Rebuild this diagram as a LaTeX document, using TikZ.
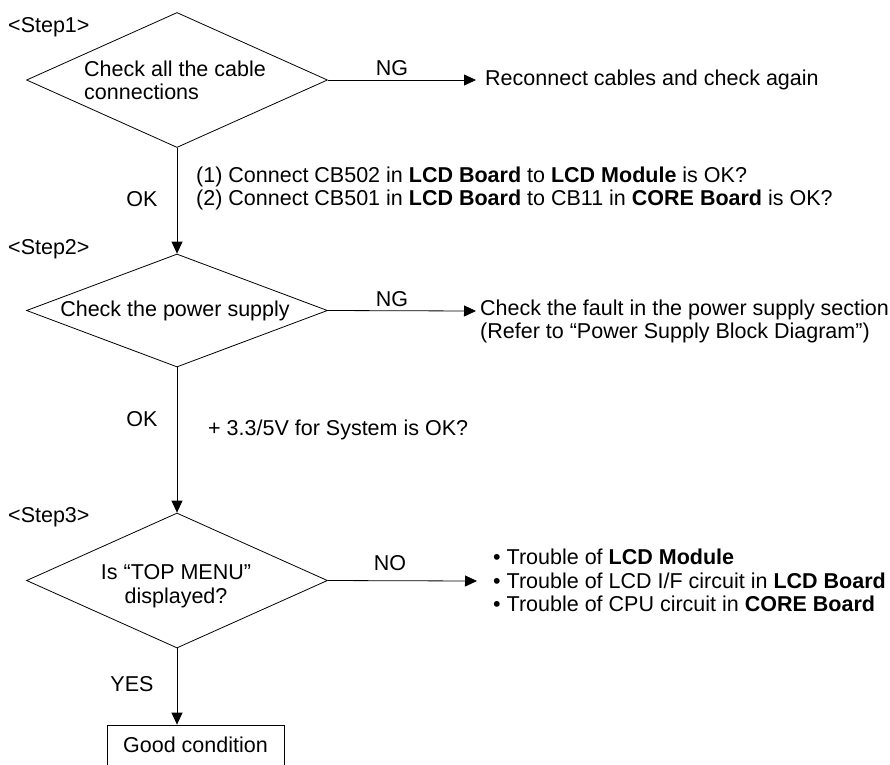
\documentclass[tikz,border=0pt]{standalone}
\usepackage{fontspec}
\setmainfont{Liberation Sans}
\usetikzlibrary{shapes.geometric,arrows.meta}
\begin{document}
\begin{tikzpicture}[x=1pt,y=-1pt,
  every node/.style={font=\fontsize{21.5}{23.5}\selectfont, inner sep=0pt},
  dia/.style={draw, diamond, minimum width=301pt, minimum height=135pt, line width=0.8pt},
  dia2/.style={draw, diamond, minimum width=301pt, minimum height=113pt, line width=0.8pt},
  conn/.style={line width=0.8pt, -{Triangle[length=12pt,width=11pt]}},
  txt/.style={align=left, anchor=west},
  lbl/.style={anchor=center}]
\useasboundingbox (0,0) rectangle (890,764);
% diamonds
\node[dia] (d1) at (177,80) {};
\node[dia2] (d2) at (177,310.5) {};
\node[dia] (d3) at (177,580.5) {};
\node[draw, line width=0.8pt, minimum width=177pt, minimum height=40pt] (good) at (195.5,745) {Good condition};
% diamond texts
\node[txt] (t1) at (84,80.5) {Check all the cable\\connections};
\node[lbl] (t2) at (175,311) {Check the power supply};
\node[align=center] (t3) at (176,586) {Is “TOP MENU”\\displayed?};
% step labels
\node[txt] (s1) at (8,27) {<Step1>};
\node[txt] (s2) at (8,249) {<Step2>};
\node[txt] (s3) at (8,517) {<Step3>};
% vertical arrows
\draw[conn] (d1.south) -- (d2.north);
\draw[conn] (d2.south) -- (d3.north);
\draw[conn] (d3.south) -- (d3.south |- good.north);
% vertical labels
\node[lbl] (ok1) at (142,199) {OK};
\node[lbl] (ok2) at (142,419) {OK};
\node[lbl] (yes) at (132,684) {YES};
\node[txt] (c1) at (196,188.5) {(1) Connect CB502 in \textbf{LCD Board} to \textbf{LCD Module} is OK?\\(2) Connect CB501 in \textbf{LCD Board} to CB11 in \textbf{CORE Board} is OK?};
\node[txt] (c2) at (208,430) {+ 3.3/5V for System is OK?};
% horizontal arrows
\coordinate (e1) at (476,80);
\coordinate (e2) at (476,311);
\coordinate (e3) at (477,581);
\draw[conn] (d1.east) -- (e1);
\draw[conn] (d2.east) -- (e2);
\draw[conn] (d3.east) -- (e3);
\node[lbl] (ng1) at (392,68) {NG};
\node[lbl] (ng2) at (392,299) {NG};
\node[lbl] (no) at (390,563) {NO};
\node[txt] (r1) at (485,80) {Reconnect cables and check again};
\node[txt] (r2) at (480,321.5) {Check the fault in the power supply section\\(Refer to “Power Supply Block Diagram”)};
\node[txt] (r3) at (493,580.5) {• Trouble of \textbf{LCD Module}\\• Trouble of LCD I/F circuit in \textbf{LCD Board}\\• Trouble of CPU circuit in \textbf{CORE Board}};
\end{tikzpicture}
\end{document}
